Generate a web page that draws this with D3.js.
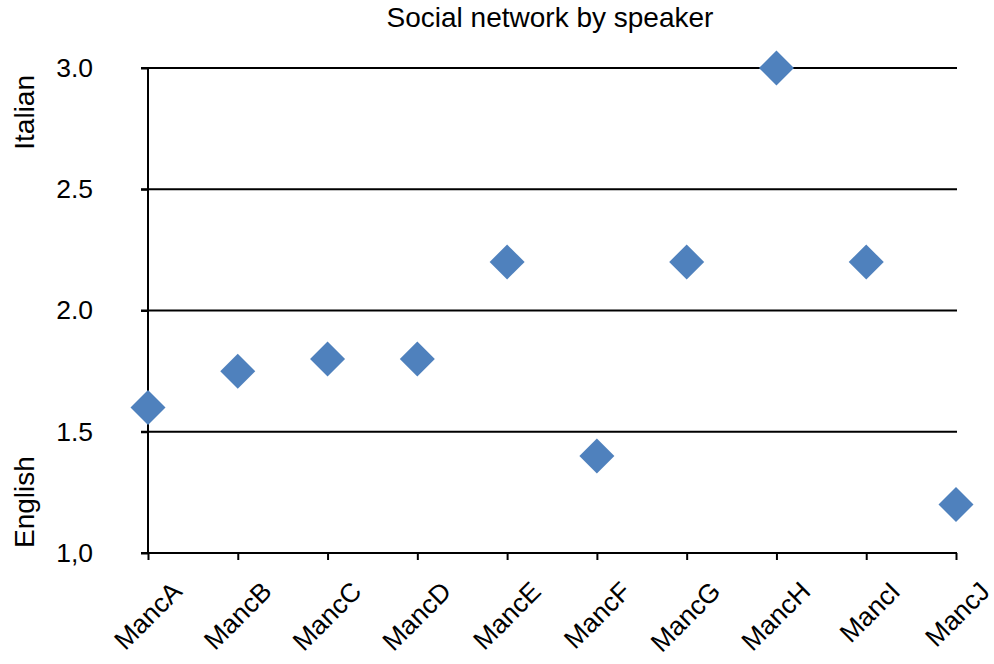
<!DOCTYPE html>
<html>
<head>
<meta charset="utf-8">
<script src="https://cdn.jsdelivr.net/npm/d3@7"></script>
<style>
  html, body { margin: 0; padding: 0; background: #fff; }
  svg text { font-family: "Liberation Sans", Arial, Helvetica, sans-serif; fill: #000; }
</style>
</head>
<body>
<svg id="chart" width="994" height="664"></svg>
<script>
// Speakers and their social network score (1 = English, 3 = Italian)
const speakers = ["MancA", "MancB", "MancC", "MancD", "MancE", "MancF", "MancG", "MancH", "MancI", "MancJ"];
const networkScores = [1.6, 1.75, 1.8, 1.8, 2.2, 1.4, 2.2, 3.0, 2.2, 1.2];
const yTickValues = [1.0, 1.5, 2.0, 2.5, 3.0];
const yTickLabels = ["1,0", "1.5", "2.0", "2.5", "3.0"];
const chartTitle = "Social network by speaker";
const topAxisTitle = "Italian";
const bottomAxisTitle = "English";

const svg = d3.select("#chart");
const plotLeft = 148, plotRight = 957, plotTop = 68, plotBottom = 553;

const x = d3.scalePoint().domain(speakers).range([plotLeft, 956]);
const y = d3.scaleLinear().domain([1, 3]).range([plotBottom, plotTop]);

const ink = "#000";
const lw = 2;
const tickFont = 26.5;
const titleFont = 28;

// Horizontal gridlines (with their tick stubs to the left of the axis)
svg.append("g").selectAll("line")
  .data(yTickValues.filter(v => v > 1))
  .join("line")
  .attr("x1", plotLeft - 7).attr("x2", plotRight)
  .attr("y1", d => y(d)).attr("y2", d => y(d))
  .attr("stroke", ink).attr("stroke-width", lw);

// Y axis
const yAxis = d3.axisLeft(y)
  .tickValues(yTickValues)
  .tickFormat((d, i) => yTickLabels[i])
  .tickSize(7)
  .tickPadding(48);
const gy = svg.append("g").attr("transform", `translate(${plotLeft},0)`).call(yAxis);
gy.select(".domain").remove();
gy.append("line").attr("x1", 0).attr("x2", 0).attr("y1", plotTop - 1).attr("y2", plotBottom + 1)
  .attr("stroke", ink).attr("stroke-width", lw);
gy.selectAll(".tick line").attr("stroke", ink).attr("stroke-width", lw);
gy.selectAll(".tick text").attr("font-size", tickFont).attr("font-family", null).attr("fill", ink);

// X axis
const xAxis = d3.axisBottom(x).tickSize(7).tickFormat(d => d);
const gx = svg.append("g").attr("transform", `translate(0,${plotBottom})`).call(xAxis);
gx.select(".domain").remove();
gx.append("line").attr("x1", plotLeft - 7).attr("x2", plotRight).attr("y1", 0).attr("y2", 0)
  .attr("stroke", ink).attr("stroke-width", lw);
gx.selectAll(".tick line").attr("stroke", ink).attr("stroke-width", lw);
gx.selectAll(".tick text")
  .attr("font-size", tickFont).attr("font-family", null).attr("fill", ink)
  .attr("text-anchor", "end")
  .attr("dy", null)
  .attr("y", 0)
  .attr("transform", "translate(35,40) rotate(-45)");

// Diamond markers
const diamond = d3.symbol().type(d3.symbolSquare).size(2 * 17.5 * 17.5);
svg.append("g").selectAll("path")
  .data(speakers.map((s, i) => ({ s, v: networkScores[i] })))
  .join("path")
  .attr("d", diamond)
  .attr("transform", d => `translate(${x(d.s)},${y(d.v)}) rotate(45)`)
  .attr("fill", "#4F81BD");

// Title
svg.append("text")
  .attr("x", 550).attr("y", 27)
  .attr("text-anchor", "middle").attr("font-size", titleFont)
  .text(chartTitle);

// Axis end labels
svg.append("text")
  .attr("transform", `translate(34,${plotTop + 7}) rotate(-90)`)
  .attr("text-anchor", "end").attr("font-size", titleFont)
  .text(topAxisTitle);
svg.append("text")
  .attr("transform", `translate(34,${plotBottom - 5}) rotate(-90)`)
  .attr("text-anchor", "start").attr("font-size", titleFont)
  .text(bottomAxisTitle);
</script>
</body>
</html>
